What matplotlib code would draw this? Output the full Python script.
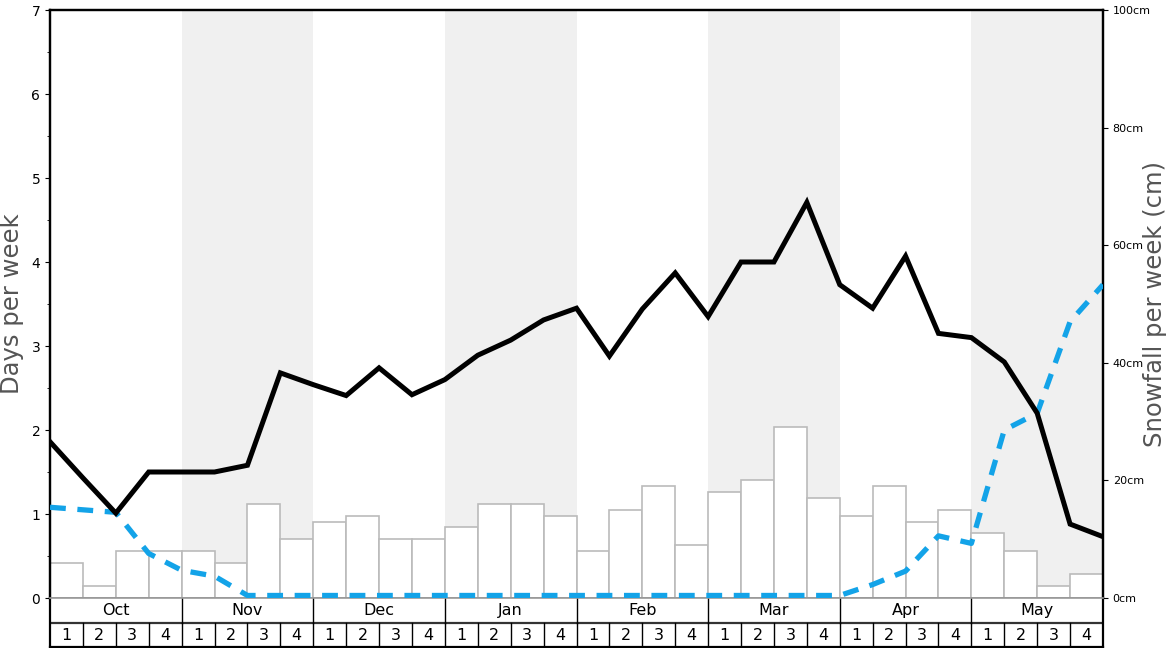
import numpy as np
import matplotlib
matplotlib.use('Agg')
import matplotlib.pyplot as plt

# datos
months = ['Oct', 'Nov', 'Dec', 'Jan', 'Feb', 'Mar', 'Apr', 'May']
weeks = ['1', '2', '3', '4']

# nieve por semana (cm), una barra por semana
snowfall_cm = [6, 2, 8, 8, 8, 6, 16, 10, 13, 14, 10, 10, 12, 16, 16, 14,
               8, 15, 19, 9, 18, 20, 29, 17, 14, 19, 13, 15, 11, 8, 2, 4]

# dias por semana (linea negra), en los bordes de semana
snow_days = [1.86, 1.43, 1.01, 1.5, 1.5, 1.5, 1.58, 2.68, 2.54, 2.41, 2.74,
             2.42, 2.6, 2.89, 3.07, 3.31, 3.45, 2.88, 3.44, 3.87, 3.35, 4.0,
             4.0, 4.71, 3.73, 3.45, 4.07, 3.15, 3.1, 2.81, 2.2, 0.88, 0.73]

# linea azul discontinua
rain_days = [1.08, 1.05, 1.02, 0.53, 0.33, 0.26, 0.03, 0.03, 0.03, 0.03, 0.03,
             0.03, 0.03, 0.03, 0.03, 0.03, 0.03, 0.03, 0.03, 0.03, 0.03, 0.03,
             0.03, 0.03, 0.03, 0.16, 0.32, 0.74, 0.65, 2.0, 2.2, 3.29, 3.73]

W, H = 1168, 648
fig = plt.figure(figsize=(W / 100, H / 100), dpi=100)
x0, x1, ytop, ybot, ytab = 50, 1103, 10, 598, 647
ax2 = fig.add_axes([x0 / W, 1 - ybot / H, (x1 - x0) / W, (ybot - ytop) / H])
ax = ax2.twinx()
ax.yaxis.tick_left()
ax2.yaxis.tick_right()
ax.set_zorder(ax2.get_zorder() + 1)
ax.patch.set_visible(False)

n = len(snowfall_cm)
# meses sombreados
for i in range(1, len(months), 2):
    ax2.axvspan(i * 4, i * 4 + 4, color='#f0f0f0', lw=0, zorder=0)
ax2.bar(np.arange(n), snowfall_cm, width=1, align='edge', color='white',
        edgecolor='#bbbbbb', linewidth=1.2, zorder=2)
ax2.set_ylim(0, 100)
ax2.set_xlim(0, n)
ax2.set_yticks(np.arange(0, 101, 20))
ax2.set_yticklabels(['%dcm' % v for v in range(0, 101, 20)], fontsize=8)

xs = np.arange(len(snow_days))
ax.plot(xs, rain_days, color='#13a3e8', lw=3.8, dashes=(3, 2.2), zorder=3)
ax.plot(xs, snow_days, color='black', lw=3.6, solid_joinstyle='miter', zorder=4)
ax.set_ylim(0, 7)
ax.set_xlim(0, n)
ax.set_yticks(range(0, 8))
ax.set_yticks(np.arange(0.5, 7, 1), minor=True)
ax.tick_params(axis='y', labelsize=10)
ax.set_xticks([])
ax2.set_xticks([])

# titulos de los ejes
fig.text(12 / W, 1 - 304 / H, 'Days per week', rotation=90, fontsize=17.5,
         color='#555555', ha='center', va='center')
fig.text(1155 / W, 1 - 304 / H, 'Snowfall per week (cm)', rotation=90,
         fontsize=17.5, color='#555555', ha='center', va='center')

for a in (ax, ax2):
    a.spines['top'].set_linewidth(1.6)
    a.spines['left'].set_linewidth(1.6)
    a.spines['right'].set_linewidth(1.6)
    a.spines['bottom'].set_color('#999999')
    a.spines['bottom'].set_linewidth(1.2)

# tabla de meses y semanas
tab = fig.add_axes([x0 / W, 1 - ytab / H, (x1 - x0) / W, (ytab - ybot) / H])
tab.set_xlim(0, n)
tab.set_ylim(0, 2)
tab.set_xticks([])
tab.set_yticks([])
tab.spines['top'].set_visible(False)
tab.spines['left'].set_linewidth(1.6)
tab.spines['right'].set_linewidth(1.6)
tab.spines['bottom'].set_linewidth(1.6)
tab.axhline(1, color='#333333', lw=1.6)
for i, m in enumerate(months):
    tab.text(i * 4 + 2, 1.5, m, ha='center', va='center', fontsize=11.5)
    if i > 0:
        tab.plot([i * 4, i * 4], [1, 2], color='black', lw=1)
for k in range(n):
    tab.text(k + 0.5, 0.48, weeks[k % 4], ha='center', va='center', fontsize=11.5)
    if k > 0:
        tab.plot([k, k], [0, 1], color='black', lw=1)

fig.savefig('out.png', dpi=100)
